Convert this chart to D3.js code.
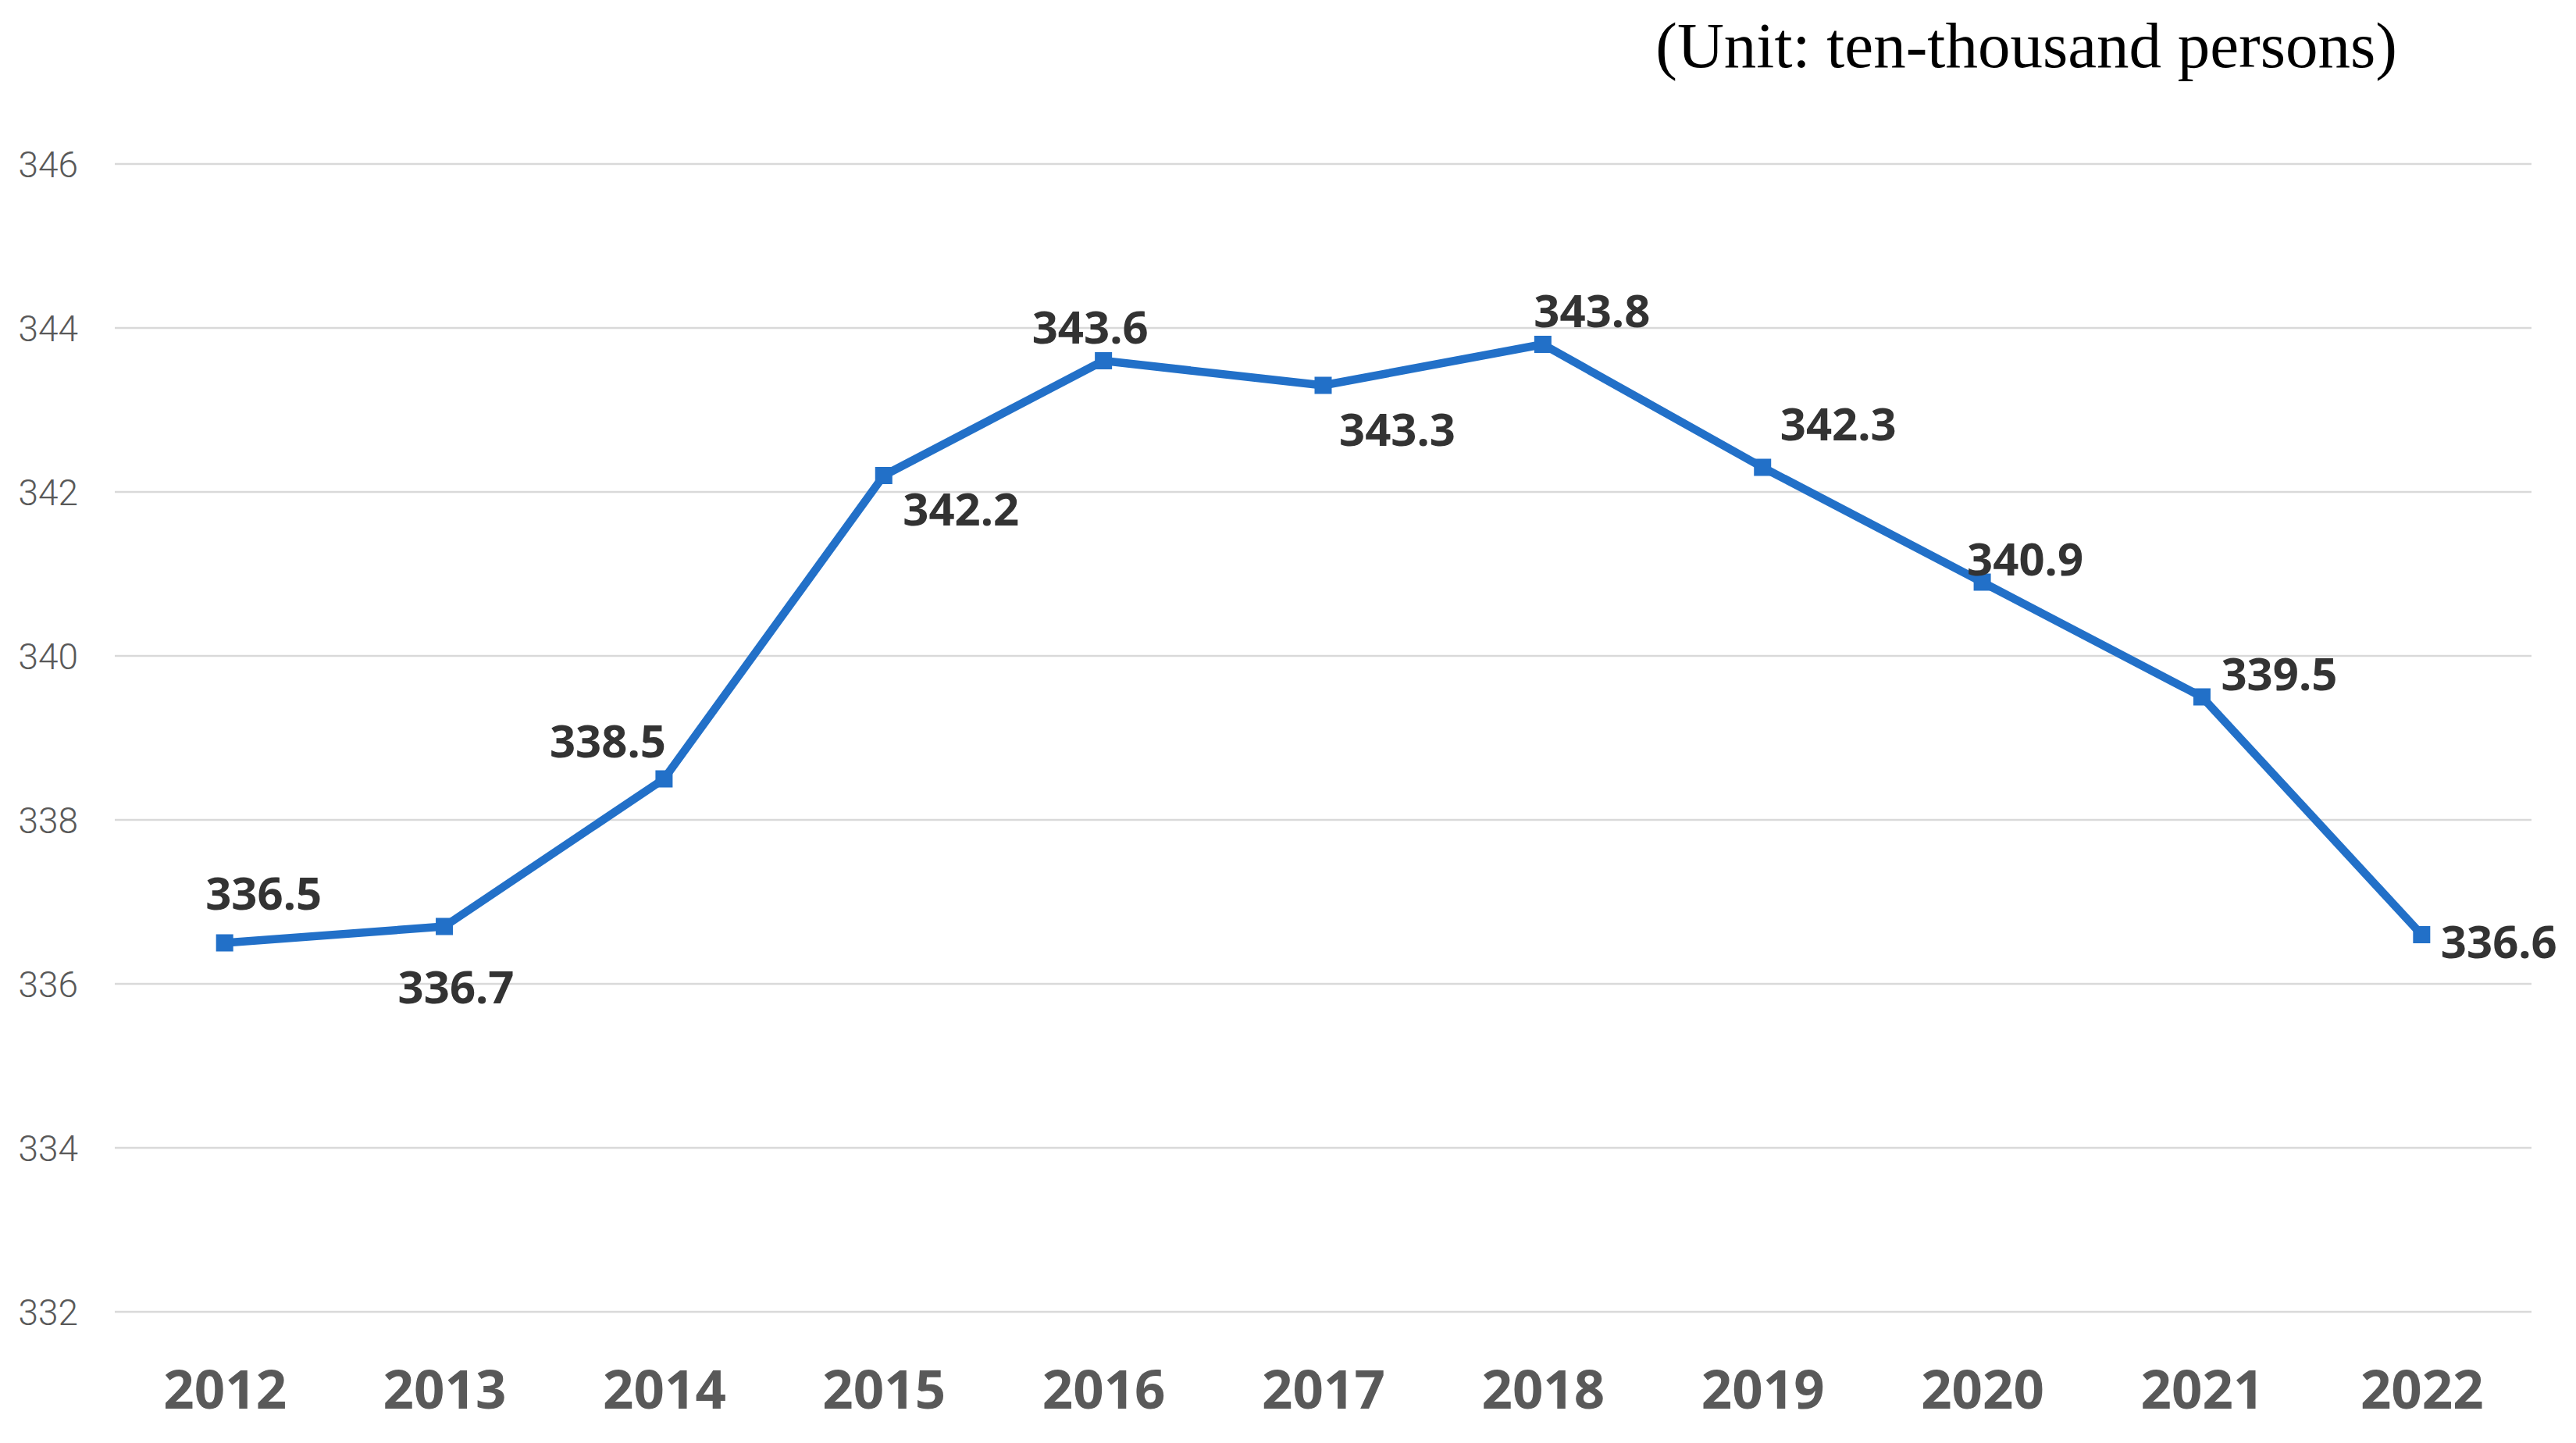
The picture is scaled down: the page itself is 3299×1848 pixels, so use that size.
<!DOCTYPE html>
<html>
<head>
<meta charset="utf-8">
<script src="https://cdn.jsdelivr.net/npm/d3@7"></script>
<style>
  html, body { margin: 0; padding: 0; background: #ffffff; }
  svg { display: block; }
</style>
</head>
<body>
<svg id="chart" width="3299" height="1848"></svg>
<script>
// ---- data ----
const years = ["2012","2013","2014","2015","2016","2017","2018","2019","2020","2021","2022"];
const values = [336.5, 336.7, 338.5, 342.2, 343.6, 343.3, 343.8, 342.3, 340.9, 339.5, 336.6];
const yTicks = [332, 334, 336, 338, 340, 342, 344, 346];
const unitText = "(Unit: ten-thousand persons)";

// ---- label placement (layout only) ----
const labelDx = [50, 15, -72, 99, -17, 95, 63, 97, 55, 99, 99];
const labelDy = [-63, 78, -48, 44, -42, 57, -42, -55, -29, -29, 10];

(function () {
const svg = d3.select("#chart");
const plotLeft = 147, plotRight = 3242, plotTop = 210, plotBottom = 1680;

const x = d3.scalePoint().domain(years).range([plotLeft, plotRight]).padding(0.5);
const y = d3.scaleLinear().domain([332, 346]).range([plotBottom, plotTop]);

// gridlines
svg.append("g").selectAll("line").data(yTicks).join("line")
  .attr("x1", plotLeft).attr("x2", plotRight)
  .attr("y1", d => y(d)).attr("y2", d => y(d))
  .attr("stroke", "#d9d9d9").attr("stroke-width", 2.5);

// y axis labels
const yAxis = d3.axisLeft(y).tickValues(yTicks).tickSize(0).tickPadding(0);
const gy = svg.append("g").attr("transform", "translate(100,0)").call(yAxis);
gy.select(".domain").remove();
gy.selectAll("text")
  .attr("font-family", "Roboto, 'Noto Sans', sans-serif")
  .attr("font-weight", 300)
  .attr("font-size", 46)
  .attr("fill", "#595959")
  .attr("dy", "0.35em");

// x axis labels
const xAxis = d3.axisBottom(x).tickSize(0).tickPadding(0);
const gx = svg.append("g").attr("transform", "translate(0,1780)").call(xAxis);
gx.select(".domain").remove();
gx.selectAll("text")
  .attr("font-family", "'Noto Sans', 'Open Sans', sans-serif")
  .attr("font-weight", 700)
  .attr("font-size", 69)
  .attr("fill", "#595959")
  .attr("dy", "0.35em");

// line
const line = d3.line().x((d, i) => x(years[i])).y(d => y(d));
svg.append("path").datum(values)
  .attr("d", line)
  .attr("fill", "none")
  .attr("stroke", "#2270C8")
  .attr("stroke-width", 10.5)
  .attr("stroke-linejoin", "round");

// markers
const ms = 22;
svg.append("g").selectAll("rect").data(values).join("rect")
  .attr("x", (d, i) => x(years[i]) - ms / 2)
  .attr("y", d => y(d) - ms / 2)
  .attr("width", ms).attr("height", ms)
  .attr("fill", "#2270C8");

// data labels
svg.append("g").selectAll("text").data(values).join("text")
  .attr("x", (d, i) => x(years[i]) + labelDx[i])
  .attr("y", (d, i) => y(d) + labelDy[i])
  .attr("text-anchor", "middle")
  .attr("dy", "0.35em")
  .attr("font-family", "'Noto Sans', 'Open Sans', sans-serif")
  .attr("font-weight", 700)
  .attr("font-size", 58)
  .attr("fill", "#333333")
  .text(d => d.toFixed(1));

// unit text
svg.append("text")
  .attr("x", 3070).attr("y", 86)
  .attr("text-anchor", "end")
  .attr("font-family", "'Liberation Serif', 'DejaVu Serif', serif")
  .attr("font-size", 83)
  .attr("fill", "#000000")
  .text(unitText);
})();
</script>
</body>
</html>
